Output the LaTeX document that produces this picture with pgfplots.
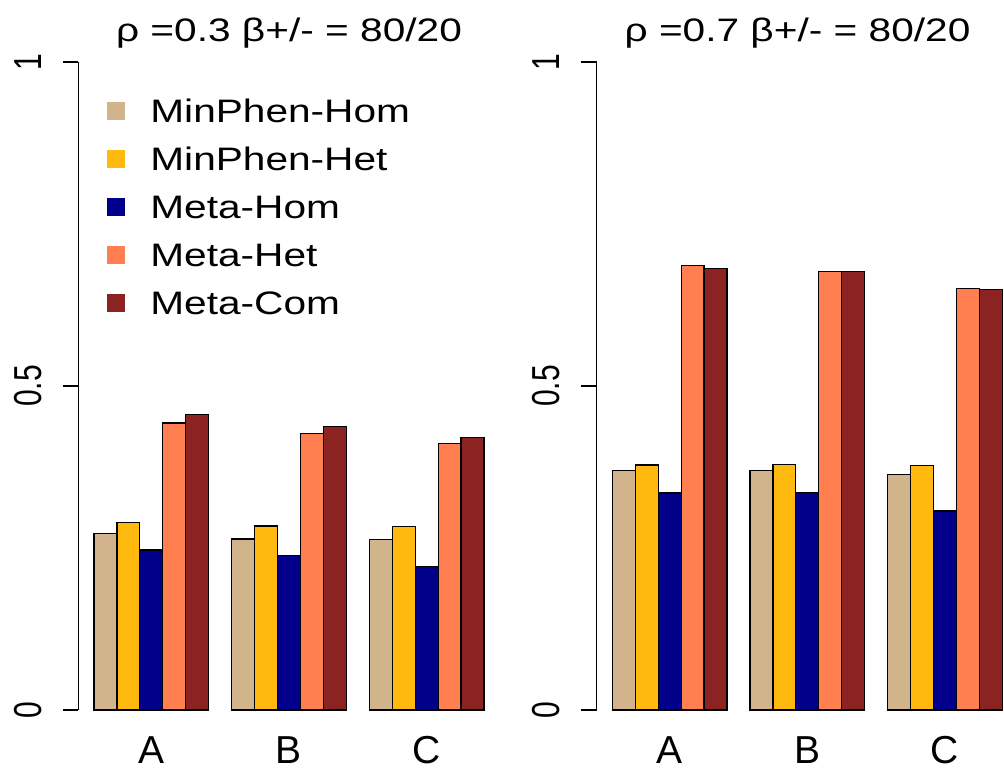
\documentclass[border=0pt]{standalone}
\usepackage{pgfplots}
\pgfplotsset{compat=1.18}
\usepackage{fontspec}
\setmainfont{Liberation Sans}
\newfontfamily\wfont{Liberation Sans}[FakeStretch=1.25]
\newfontfamily\tfont{Liberation Sans}[FakeStretch=0.77]
\definecolor{ctan}{HTML}{D2B48C}
\definecolor{cgold}{HTML}{FFB90F}
\definecolor{cnavy}{HTML}{00008B}
\definecolor{ccoral}{HTML}{FF7F50}
\definecolor{cbrown}{HTML}{8B2323}
\pgfplotsset{
  panel/.style={
    scale only axis, width=210.6pt, height=324pt,
    xmin=0.32, xmax=18.68, ymin=0, ymax=1,
    axis x line=bottom, axis y line=left,
    x axis line style={draw=none}, y axis line style={-, line width=0.7pt},
    xtick={3.5,9.5,15.5}, xticklabels={A,B,C},
    xtick style={draw=none}, 
    xticklabel style={font=\fontsize{19.5}{23}\selectfont, anchor=base, inner sep=0pt, text depth=0pt, yshift=-19pt},
    ytick={0,0.5,1}, yticklabels={0,0.5,1},
    tick align=outside, major tick length=7.8pt,
    ytick style={line width=0.7pt, black},
    yticklabel style={font=\tfont\fontsize{19.5}{23}\selectfont, xshift=-10.85pt, rotate=90, anchor=base},
    title style={font=\wfont\fontsize{16.25}{19}\selectfont, at={(axis description cs:0.5,1)}, anchor=base, yshift=4pt},
  },
  bars/.style={ybar, bar width=1, bar shift=0pt, draw=black, line width=0.6pt, fill=#1},
}
\begin{document}
\begin{tikzpicture}
\useasboundingbox (0,0) rectangle (502pt,386pt);
\begin{axis}[panel, at={(39.2pt,31pt)}, anchor=south west,
  title={ρ =0.3 β+/- = 80/20},
  legend style={at={(axis description cs:0.0679,0.943)}, anchor=north west, draw=none, fill=none, inner sep=0pt,
    font=\wfont\fontsize{16.25}{19}\selectfont, row sep=12.4pt,
    nodes={inner sep=0pt, text height=11.6pt, text depth=0pt},
    /tikz/every odd column/.append style={column sep=12.5pt}},
  legend cell align=left,
  legend image code/.code={\fill[#1, draw=none] (0pt,-4.5pt) rectangle (9pt,4.5pt);}]
\addplot[bars=ctan] coordinates {(1.5,0.272) (7.5,0.264) (13.5,0.263)};
\addlegendentry{MinPhen-Hom}
\addplot[bars=cgold] coordinates {(2.5,0.289) (8.5,0.284) (14.5,0.283)};
\addlegendentry{MinPhen-Het}
\addplot[bars=cnavy] coordinates {(3.5,0.247) (9.5,0.238) (15.5,0.221)};
\addlegendentry{Meta-Hom}
\addplot[bars=ccoral] coordinates {(4.5,0.443) (10.5,0.427) (16.5,0.411)};
\addlegendentry{Meta-Het}
\addplot[bars=cbrown] coordinates {(5.5,0.456) (11.5,0.437) (17.5,0.421)};
\addlegendentry{Meta-Com}
\end{axis}
\begin{axis}[panel, at={(298.35pt,31pt)}, anchor=south west,
  title={ρ =0.7 β+/- = 80/20}, title style={xshift=-4.9pt}]
\addplot[bars=ctan] coordinates {(1.5,0.369) (7.5,0.370) (13.5,0.364)};
\addplot[bars=cgold] coordinates {(2.5,0.378) (8.5,0.379) (14.5,0.377)};
\addplot[bars=cnavy] coordinates {(3.5,0.335) (9.5,0.336) (15.5,0.307)};
\addplot[bars=ccoral] coordinates {(4.5,0.686) (10.5,0.677) (16.5,0.650)};
\addplot[bars=cbrown] coordinates {(5.5,0.681) (11.5,0.677) (17.5,0.649)};
\end{axis}
\end{tikzpicture}
\end{document}
